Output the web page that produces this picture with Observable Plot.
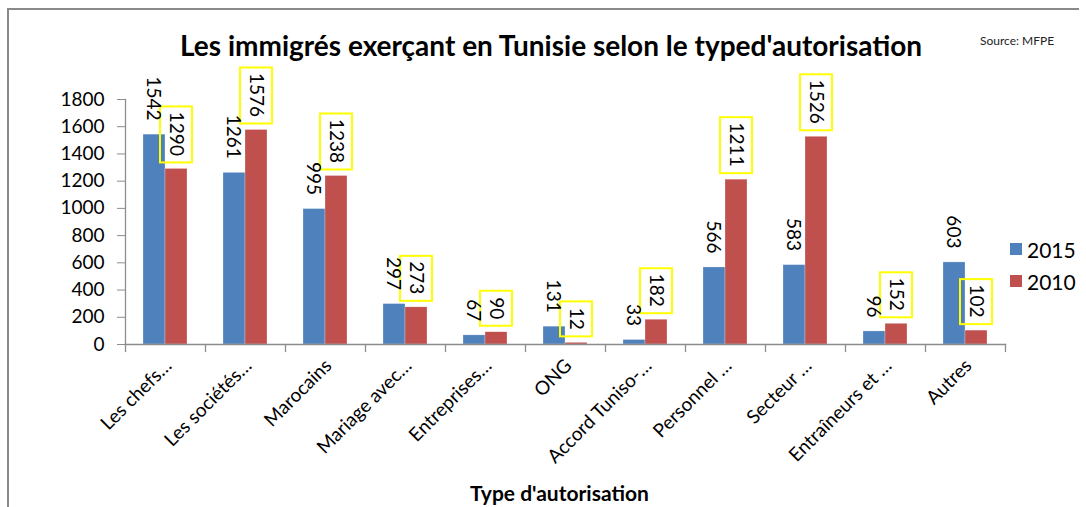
<!DOCTYPE html>
<html>
<head>
<meta charset="utf-8">
<script src="https://cdn.jsdelivr.net/npm/d3@7"></script>
<script src="https://cdn.jsdelivr.net/npm/@observablehq/plot@0.6"></script>
<style>
  html, body { margin: 0; padding: 0; background: #fff; overflow: hidden; }
  #wrap { position: relative; width: 1086px; height: 507px; overflow: hidden; font-family: Lato, "Open Sans", sans-serif; }
  #border { position: absolute; left: 7px; top: 8px; width: 1070px; height: 520px; border-top: 2px solid #8a8a8a; border-left: 2px solid #8a8a8a; }
  #chart { position: absolute; left: 0; top: 0; }
  #title { position: absolute; left: 180px; top: 28px; font-weight: bold; font-size: 28px; white-space: nowrap; color: #000; }
  #source { position: absolute; left: 980px; top: 33px; font-size: 12px; color: #222; white-space: nowrap; }
  #xtitle { position: absolute; left: 470px; top: 480px; font-weight: bold; font-size: 21px; white-space: nowrap; color: #000; }
  #legend { position: absolute; left: 1010px; top: 229px; font-size: 21px; color: #000; }
  .li { display: flex; align-items: center; height: 40px; margin-top: -8px; }
  .li:first-child { margin-top: 0; }
  .sw { width: 12px; height: 12px; margin-right: 5px; }
</style>
</head>
<body>
<div id="wrap">
  <div id="border"></div>
  <div id="chart"></div>
  <div id="title">Les immigrés exerçant en Tunisie selon le typed'autorisation</div>
  <div id="source">Source: MFPE</div>
  <div id="xtitle">Type d'autorisation</div>
  <div id="legend"></div>
</div>
<script>
const categories = ["Les chefs…", "Les sociétés…", "Marocains", "Mariage avec…", "Entreprises…", "ONG", "Accord Tuniso-…", "Personnel …", "Secteur …", "Entraîneurs et …", "Autres"];
const series = ["2015", "2010"];
const values2015 = [1542, 1261, 995, 297, 67, 131, 33, 566, 583, 96, 603];
const values2010 = [1290, 1576, 1238, 273, 90, 12, 182, 1211, 1526, 152, 102];
const yTicks = [0, 200, 400, 600, 800, 1000, 1200, 1400, 1600, 1800];
const colors = {"2015": "#4F81BD", "2010": "#C0504D"};

const rows = [];
categories.forEach((c, i) => {
  rows.push({category: c, series: "2015", value: values2015[i]});
  rows.push({category: c, series: "2010", value: values2010[i]});
});
const rows2015 = rows.filter(d => d.series === "2015");
const rows2010 = rows.filter(d => d.series === "2010");
const boxH = {1: 28, 2: 35, 3: 45, 4: 56};
const boxMarks = [1, 2, 3, 4].map(n => Plot.barY(rows2010.filter(d => String(d.value).length === n), {
  fx: "category", x: "series", y1: "value", y2: "value",
  insetTop: -(6 + boxH[n]), insetBottom: 6, insetLeft: -5, insetRight: -5,
  fill: "none", stroke: "#FFFF00", strokeWidth: 2
}));

const chart = Plot.plot({
  width: 1086, height: 507,
  marginTop: 99, marginBottom: 163, marginLeft: 122, marginRight: 79,
  style: {fontFamily: "Lato, 'Open Sans', sans-serif", background: "transparent"},
  fx: {domain: categories, padding: 0, label: null},
  x: {domain: series, paddingInner: 0, paddingOuter: 0.79, axis: null},
  y: {domain: [0, 1800], label: null},
  marks: [
    Plot.barY(rows, {fx: "category", x: "series", y: "value", fill: d => colors[d.series], stroke: "#ffffff", strokeOpacity: 0.5, strokeWidth: 0.5}),
    ...boxMarks,
    Plot.text(rows2015, {fx: "category", x: "series", y: "value", text: d => String(d.value), rotate: 90, textAnchor: "end", dy: -14, dx: -1, fontSize: 19, fill: "#000"}),
    Plot.text(rows2010, {fx: "category", x: "series", y: "value", text: d => String(d.value), rotate: 90, textAnchor: "end", dy: -13, fontSize: 19, fill: "#000"}),
    Plot.frame({facet: "super", anchor: "left", stroke: "#8c8c8c", strokeWidth: 1.3}),
    Plot.frame({facet: "super", anchor: "bottom", stroke: "#8c8c8c", strokeWidth: 1.3}),
    Plot.frame({anchor: "left", insetTop: 245, insetBottom: -7, stroke: "#8c8c8c", strokeWidth: 1.3}),
    Plot.frame({facet: "super", anchor: "right", insetTop: 245, insetBottom: -7, stroke: "#8c8c8c", strokeWidth: 1.3}),
    Plot.axisY({ticks: yTicks, tickFormat: d => String(d), tickSize: 8, tickPadding: 13, fontSize: 19, stroke: "#8c8c8c", fill: "#000", label: null}),
    Plot.axisFx({anchor: "bottom", tickRotate: -45, tickSize: 0, tickPadding: 18, dx: 3, fontSize: 19, fill: "#000", label: null})
  ]
});
document.getElementById("chart").appendChild(chart);

const legend = document.getElementById("legend");
series.forEach(s => {
  const item = document.createElement("div");
  item.className = "li";
  const sw = document.createElement("div");
  sw.className = "sw";
  sw.style.background = colors[s];
  const t = document.createElement("span");
  t.textContent = s;
  item.appendChild(sw);
  item.appendChild(t);
  legend.appendChild(item);
});
</script>
</body>
</html>
